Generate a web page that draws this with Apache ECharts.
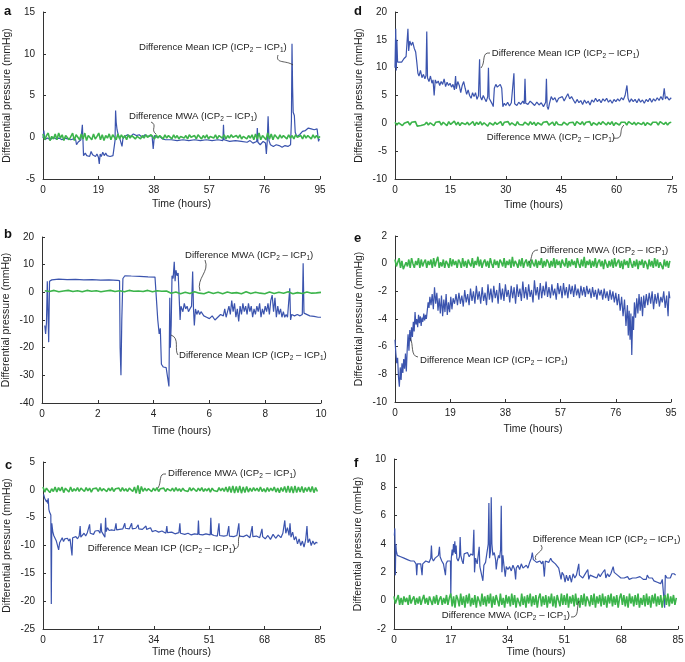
<!DOCTYPE html>
<html>
<head>
<meta charset="utf-8">
<script src="https://cdn.jsdelivr.net/npm/echarts@6/dist/echarts.min.js"></script>
<style>html,body{margin:0;padding:0;background:#fff}#c{width:685px;height:662px}</style>
</head>
<body>
<div id="c"></div>
<script>
// ---------- DATA ----------
const xTitle = 'Time (hours)';
const yTitle = 'Differential pressure (mmHg)';
const labelMean = 'Difference Mean ICP';
const labelMWA = 'Difference MWA';

// axis ranges [min, max, interval]
const xAxisA = [0, 95, 19], yAxisA = [-5, 15, 5];
const xAxisD = [0, 75, 15], yAxisD = [-10, 20, 5];
const xAxisB = [0, 10, 2],  yAxisB = [-40, 20, 10];
const xAxisE = [0, 95, 19], yAxisE = [-10, 2, 2];
const xAxisC = [0, 85, 17], yAxisC = [-25, 5, 5];
const xAxisF = [0, 85, 17], yAxisF = [-2, 10, 2];

// Difference Mean ICP: [hours, mmHg]
const blueA = [[0,-0.1],[0.3,0.8],[0.6,-0.3],[1.5,-0.1],[2.5,-0.3],[3.5,0.0],[4.5,-0.2],[5.5,-0.1],[6.5,-0.3],[7.5,-0.1],[8.5,-0.2],[9.5,-0.3],[10.5,-0.2],[11.2,-0.3],[11.5,-0.9],[12,-0.6],[12.5,-0.7],[13,-0.3],[13.3,-0.5],[13.5,1.5],[13.7,-0.3],[13.9,-2.2],[14.5,-1.9],[15,-2.2],[15.5,-2.0],[16,-2.3],[16.5,-1.7],[17,-2.1],[17.5,-1.9],[18,-2.3],[18.5,-2.0],[19,-2.4],[19.3,-3.2],[19.6,-2.0],[20,-2.3],[20.5,-1.8],[21,-2.2],[21.5,-1.9],[22,-2.2],[22.5,-2.0],[23,-2.3],[24,-2.2],[24.6,-2.2],[24.7,-0.4],[24.9,3.2],[25.1,1.8],[25.4,0.9],[25.8,0.3],[26.3,-0.1],[26.8,-0.3],[27.1,-1.1],[27.4,-0.2],[28,0.1],[29,0.3],[30,0.1],[31,0.4],[32,0.2],[33,0.3],[34,0.0],[35,0.3],[36,0.1],[37.4,0.2],[37.8,-1.4],[38.2,0.2],[39,0.0],[40,0.1],[41,-0.2],[42,-0.3],[44,-0.3],[46,-0.4],[48,-0.3],[50,-0.4],[52,-0.3],[54,-0.4],[56,-0.3],[58,-0.4],[60,-0.3],[61.7,-0.4],[61.9,1.5],[62.1,-0.3],[64,-0.5],[66,-0.4],[68,-0.5],[70,-0.6],[71,-0.4],[72,-0.7],[73.3,-0.5],[73.5,1.1],[73.7,-0.6],[74.5,-0.9],[75.5,-0.5],[76.3,-0.7],[76.6,-2.0],[76.9,-0.5],[77.2,2.5],[77.5,-0.4],[78,-0.9],[79,-1.1],[80,-0.9],[81,-1.0],[82,-1.2],[83,-1.0],[84,-1.1],[84.9,-0.9],[85.2,2],[85.4,11.2],[85.6,6],[85.8,3.0],[86.2,2.6],[86.5,0.6],[87,0.1],[88,0.3],[89,0.7],[90,0.8],[91,1.1],[92,1.0],[92.5,1.2],[93,0.9],[94,1.0],[94.3,0.8],[94.5,-0.5],[94.8,-0.2]];

const blueD = [[0,10],[0.2,17],[0.35,9.5],[0.5,15],[0.7,11],[1.2,11.3],[1.8,11],[2.4,11.6],[3,12],[3.3,12.3],[3.5,17],[3.7,13],[4,14.8],[4.4,14],[4.8,14.6],[5.2,13.5],[5.6,12.8],[5.9,11],[6.2,9],[6.5,8.5],[6.9,9.5],[7.3,8.2],[7.7,8.8],[8.1,8],[8.4,8.6],[8.6,16.5],[8.8,8.2],[9.2,7.5],[9.6,8.5],[10,7.2],[10.3,7.8],[10.6,5],[10.9,7.8],[11.3,7.2],[11.7,7.6],[12.1,6.8],[12.5,7.5],[12.9,7],[13.3,8],[13.7,6.6],[14.1,7.4],[14.5,6.8],[14.9,7.2],[15.3,6.5],[15.7,7],[16.1,6],[16.4,8.5],[16.6,6.2],[17,7.5],[17.4,6.8],[17.8,5.5],[18.2,6.8],[18.6,7.5],[19,6.3],[19.4,5.2],[19.8,6],[20.2,5],[20.6,4.5],[21,5.5],[21.4,4.8],[21.8,5.5],[22.2,4.3],[22.6,5],[22.9,11.5],[23.1,4.8],[23.5,4.2],[23.9,5],[24.3,4.4],[24.7,3.9],[25.1,4.8],[25.3,10],[25.5,4.5],[25.9,4.2],[26.3,3.5],[26.6,3.0],[26.9,6.3],[27.3,7],[27.7,6.5],[28.1,6.8],[28.5,7],[28.9,6.3],[29.2,3],[29.6,3.6],[30,3.2],[30.5,3.8],[31,3.1],[31.5,3.7],[32,3.4],[32.2,9],[32.4,3.5],[33,3.2],[33.5,3.8],[34,3.4],[34.6,4],[35,3.5],[35.2,8],[35.4,3.6],[36,3.4],[36.6,4.0],[37.2,3.6],[37.8,3.2],[38.4,3.8],[39,3.3],[39.6,3.7],[40.2,3.0],[40.8,3.8],[41,8],[41.2,3],[41.5,2.5],[41.8,3.5],[42.3,4.8],[42.8,4.2],[43.3,4.6],[43.8,3.8],[44.3,4.5],[44.8,4.2],[45.3,4.8],[45.8,4],[46.3,4.7],[46.8,5.3],[47.3,4.4],[47.8,4.8],[48.3,4.2],[48.8,3.6],[49.3,4.3],[49.8,3.7],[50.3,4.1],[50.8,3.4],[51.3,4.2],[51.8,3.6],[52.3,4.0],[52.8,3.3],[53.3,4.2],[53.8,3.8],[54.3,4.5],[54.8,3.9],[55.3,4.3],[55.8,3.7],[56.3,4.4],[56.8,4.0],[57.3,4.5],[57.8,3.8],[58.3,4.2],[58.8,3.6],[59.3,4.3],[59.8,3.9],[60.3,4.4],[60.8,4.0],[61.3,4.6],[61.8,4.2],[62.3,5],[62.8,6.8],[63.1,4.5],[63.5,3.8],[64,4.4],[64.5,3.9],[65,4.3],[65.5,3.7],[66,4.4],[66.5,3.8],[67,4.2],[67.5,3.6],[68,4.3],[68.5,3.9],[69,4.5],[69.5,3.8],[70,4.4],[70.5,4.0],[71,4.6],[71.5,4.1],[72,4.8],[72.5,4.2],[72.9,6.3],[73.2,4.4],[73.6,4.8],[74.2,4.2],[74.8,4.6]];

const blueB = [[0.1,-12],[0.13,-15],[0.16,-11],[0.19,4],[0.22,3.5],[0.24,-18],[0.27,4],[0.35,4.5],[0.6,4.8],[0.9,4.6],[1.2,4.7],[1.5,4.5],[1.8,4.6],[2.1,4.4],[2.4,4.5],[2.7,4.3],[2.78,4.2],[2.8,-20],[2.83,-30],[2.86,-10],[2.9,5],[2.97,6],[3.2,5.9],[3.5,5.8],[3.8,5.6],[4.05,5.5],[4.12,5.4],[4.15,-10],[4.2,-15],[4.24,-13],[4.28,-26],[4.35,-27],[4.45,-27.2],[4.52,-27],[4.55,-34],[4.58,-2],[4.6,-20],[4.63,-12],[4.66,6],[4.7,5],[4.74,11],[4.77,4],[4.8,8],[4.84,6],[4.88,7],[4.92,6.5],[4.95,-10],[4.98,-5],[5.05,-7],[5.1,-4],[5.15,-6],[5.2,-5],[5.25,-7],[5.3,-6],[5.36,-5],[5.4,7.5],[5.43,-6],[5.46,-12],[5.5,-6],[5.55,-8],[5.6,-6.5],[5.65,-8],[5.7,-7],[5.8,-8.5],[5.9,-9],[6.0,-9.5],[6.1,-8.5],[6.2,-10],[6.3,-9],[6.4,-8],[6.5,-8.5],[6.55,-6],[6.6,-9],[6.65,-7],[6.7,-5],[6.75,-8],[6.8,-3],[6.85,-7],[6.9,-4],[6.95,-9],[7.0,-6],[7.05,-10.5],[7.1,-5],[7.15,-8],[7.2,-4],[7.25,-7],[7.3,-5],[7.35,-8],[7.4,-4],[7.45,-7],[7.5,-5],[7.55,-9],[7.6,-6],[7.65,-8],[7.7,-5],[7.75,-7],[7.8,-4],[7.85,-9],[7.9,-6],[7.95,-8],[8.0,-5],[8.05,-7],[8.1,-4],[8.15,-8],[8.2,-3],[8.25,-1],[8.3,-7],[8.35,-2],[8.4,-9],[8.45,-5],[8.5,-8],[8.55,-6],[8.6,-9],[8.65,-7],[8.7,-9],[8.75,-8],[8.8,-9],[8.85,-8.5],[8.88,1.5],[8.91,-10],[8.95,-8],[9.05,-8.5],[9.15,-8],[9.25,-8.5],[9.33,-8],[9.36,10.5],[9.39,-7.5],[9.45,-8],[9.6,-8.5],[9.75,-8.7],[9.9,-9],[10,-9]];

const blueE = [[0,-5.5],[0.3,-6.5],[0.6,-7.2],[0.9,-6.8],[1.2,-8.2],[1.5,-8.9],[1.8,-7.5],[2.1,-8.4],[2.4,-7.2],[2.7,-7.9],[3.0,-6.9],[3.3,-7.6],[3.6,-6.5],[3.9,-7.8],[4.2,-6.2],[4.5,-5.1],[4.8,-6.3],[5.1,-4.8],[5.4,-5.6],[5.7,-4.6],[6.0,-5.3],[6.3,-4.2],[6.6,-4.9],[6.9,-3.5],[7.2,-4.4],[7.5,-4.0],[7.8,-4.6],[8.1,-3.7],[8.4,-4.3],[8.7,-3.8],[9.0,-4.5],[9.3,-3.9],[9.6,-4.2],[9.9,-3.6],[10.2,-4.1],[10.5,-3.7],[10.8,-4.0],[11.1,-3.9],[11.4,-2.8],[11.7,-3.2],[12.0,-2.4],[12.4,-3.0],[12.8,-2.2],[13.2,-3.3],[13.6,-1.7],[14.0,-2.9],[14.4,-2.1],[14.8,-3.4],[15.2,-2.5],[15.6,-3.6],[16.0,-2.3],[16.4,-3.8],[16.8,-2.6],[17.2,-3.5],[17.6,-2.2],[18.0,-3.7],[18.4,-2.8],[18.8,-3.5],[19.2,-2.4],[19.6,-3.3],[20.0,-2.5],[20.5,-2.9],[21.0,-2.2],[21.5,-3.0],[22.0,-2.1],[22.5,-2.9],[23.0,-2.3],[23.5,-3.1],[24.0,-1.9],[24.5,-2.8],[25.0,-2.2],[25.5,-3.0],[26.0,-1.8],[26.5,-2.7],[27.0,-2.0],[27.5,-2.9],[28.0,-1.6],[28.5,-2.6],[29.0,-2.0],[29.5,-2.9],[30.0,-1.7],[30.5,-2.7],[31.0,-2.1],[31.5,-3.0],[32.0,-1.5],[32.5,-2.6],[33.0,-1.8],[33.5,-2.8],[34.0,-1.6],[34.5,-2.5],[35.0,-1.9],[35.5,-2.9],[36.0,-1.4],[36.5,-2.6],[37.0,-1.8],[37.5,-2.7],[38.0,-1.5],[38.5,-2.4],[39.0,-1.9],[39.5,-2.8],[40.0,-1.6],[40.5,-2.5],[41.0,-1.7],[41.5,-2.9],[42.0,-1.5],[42.5,-2.4],[43.0,-1.8],[43.5,-2.7],[44.0,-1.3],[44.5,-2.5],[45.0,-1.7],[45.5,-2.6],[46.0,-1.5],[46.5,-2.4],[47.0,-1.9],[47.5,-2.8],[48.0,-1.2],[48.5,-2.3],[49.0,-1.7],[49.5,-2.6],[50.0,-1.4],[50.5,-2.5],[51.0,-1.6],[51.5,-2.3],[52.0,-1.3],[52.5,-2.4],[53.0,-1.7],[53.5,-2.5],[54.0,-1.5],[54.5,-2.3],[55.0,-1.8],[55.5,-2.6],[56.0,-1.4],[56.5,-2.2],[57.0,-1.6],[57.5,-2.5],[58.0,-1.4],[58.5,-2.3],[59.0,-1.7],[59.5,-2.5],[60.0,-1.5],[60.5,-2.2],[61.0,-1.6],[61.5,-2.4],[62.0,-1.5],[62.5,-2.3],[63.0,-1.8],[63.5,-2.5],[64.0,-1.6],[64.5,-2.3],[65.0,-1.7],[65.5,-2.4],[66.0,-1.6],[66.5,-2.2],[67.0,-1.8],[67.5,-2.5],[68.0,-1.7],[68.5,-2.4],[69.0,-1.9],[69.5,-2.6],[70.0,-1.8],[70.5,-2.3],[71.0,-1.9],[71.5,-2.6],[72.0,-1.8],[72.5,-2.5],[73.0,-2.0],[73.5,-2.7],[74.0,-1.9],[74.5,-2.6],[75.0,-2.0],[75.5,-2.8],[76.0,-2.1],[76.5,-3.0],[77.0,-2.2],[77.5,-3.4],[78.0,-2.4],[78.5,-3.8],[79.0,-2.6],[79.5,-4.5],[80.0,-3.0],[80.3,-5.2],[80.6,-3.4],[80.9,-5.5],[81.2,-3.6],[81.5,-6.6],[81.8,-3.8],[82.1,-4.8],[82.4,-2.8],[82.8,-3.9],[83.2,-2.5],[83.6,-3.6],[84.0,-2.2],[84.4,-3.4],[84.8,-2.4],[85.2,-3.8],[85.6,-2.3],[86.0,-3.2],[86.5,-2.2],[87.0,-3.0],[87.5,-2.1],[88.0,-2.9],[88.5,-2.0],[89.0,-3.3],[89.5,-2.2],[90.0,-2.9],[90.5,-2.1],[91.0,-3.1],[91.5,-2.4],[92.0,-2.8],[92.5,-2.0],[93.0,-3.2],[93.5,-2.3],[94.0,-3.8],[94.3,-2.0],[94.6,-2.5]];

const blueC = [[0.2,-0.8],[0.5,-1.5],[0.8,-1.2],[1.1,-2.2],[1.3,-1.8],[1.5,-2.5],[1.6,-1.5],[1.8,-3.5],[2.0,-4.0],[2.2,-3.8],[2.4,-4.5],[2.55,-20.5],[2.7,-6],[3.0,-7.5],[3.3,-8.2],[3.7,-8.5],[4.1,-9.2],[4.5,-9.0],[4.8,-10.8],[5.1,-9.5],[5.5,-9.2],[5.9,-8.6],[6.3,-9.3],[6.7,-8.8],[7.1,-9.1],[7.5,-8.7],[7.9,-9.2],[8.3,-8.8],[8.7,-9],[8.9,-11.8],[9.1,-8.6],[9.6,-8.8],[10.1,-8.4],[10.6,-8.8],[11.1,-8.3],[11.4,-6.5],[11.6,-8.5],[12.1,-8.2],[12.6,-7.8],[13.1,-8.3],[13.6,-7.7],[14.1,-8],[14.3,-6.2],[14.5,-7.8],[15,-7.5],[15.5,-8],[16,-7.4],[16.5,-7.7],[17,-7.3],[17.5,-7.8],[17.8,-6.0],[18,-7.5],[18.5,-7.2],[19.0,-8.5],[19.2,-5.0],[19.4,-7.5],[19.8,-6.8],[20.3,-7.3],[21,-7.2],[22,-7.3],[22.4,-6.0],[22.6,-7.2],[23.5,-7.1],[24.5,-7.0],[25.1,-6.0],[25.3,-6.9],[26.5,-7.0],[27.2,-6.0],[27.4,-7.0],[28.5,-6.9],[29.2,-6.3],[29.4,-7.0],[30.5,-7.1],[31.6,-6.5],[31.8,-7.1],[33,-6.8],[33.5,-7.5],[34.5,-7.3],[35.5,-7.6],[36.5,-7.4],[37.7,-7.8],[38,-6.5],[38.2,-7.7],[39.5,-7.6],[40.5,-7.9],[41.7,-7.7],[42,-6.0],[42.2,-7.8],[43.5,-8.0],[44.5,-7.8],[45.5,-8.1],[46.5,-7.9],[47.5,-8.0],[47.7,-5.5],[47.9,-8.0],[49,-8.1],[50,-7.9],[51.3,-8.1],[51.5,-5.0],[51.7,-8.0],[52.5,-8.2],[53.5,-8.3],[54.0,-6.0],[54.2,-8.2],[55.5,-8.3],[56.5,-8.2],[57.0,-6.5],[57.2,-8.3],[58.5,-8.4],[59.5,-8.2],[60.1,-6.0],[60.3,-8.3],[61.5,-8.4],[62.5,-8.1],[63.5,-8.6],[64.2,-6.5],[64.4,-8.4],[65.5,-8.3],[66.5,-8.6],[67.2,-7.0],[67.4,-8.4],[68.2,-8.8],[69,-8.2],[69.8,-8.9],[70.6,-8.0],[71.4,-8.7],[72.2,-8.1],[73,-8.6],[73.6,-7.8],[74.2,-5.5],[74.5,-7.8],[75,-6.8],[75.5,-8.2],[75.8,-6.0],[76.1,-8.5],[76.6,-7.6],[77.1,-9.0],[77.6,-8.4],[78.1,-9.7],[78.6,-8.8],[79.1,-10.0],[79.6,-9.2],[80.1,-10.3],[80.6,-9.0],[81,-6.5],[81.3,-9.5],[81.8,-8.8],[82.3,-10],[82.8,-9.2],[83.3,-9.8],[83.8,-9.4],[84.2,-9.6]];

const blueF = [[0.1,4.6],[0.25,5.1],[0.4,1.8],[0.55,4.0],[0.7,3.5],[1,3.2],[1.5,3.3],[2,3.1],[2.5,3.2],[3,3.0],[3.5,3.1],[4,2.9],[4.5,3.0],[5,2.8],[5.5,2.7],[6,2.8],[6.6,2.6],[6.8,1.8],[7,2.6],[7.5,2.5],[8,2.6],[8.4,1.8],[8.6,2.6],[9,2.5],[9.5,2.8],[10,2.9],[10.5,2.7],[11.0,3.0],[11.2,3.9],[11.4,3.0],[11.8,2.8],[12.3,3.0],[12.8,2.9],[13.3,3.2],[13.6,3.8],[13.8,3.1],[14.3,2.8],[14.8,2.6],[15.3,2.7],[15.4,1.8],[15.6,2.6],[16,2.8],[16.5,2.7],[16.9,2.8],[17.0,0.3],[17.15,3.0],[17.4,3.6],[17.6,3.2],[17.8,4.0],[18,3.4],[18.2,4.2],[18.4,3.3],[18.6,3.9],[18.8,3.0],[19.2,2.8],[19.6,3.1],[19.8,4.5],[20,3.2],[20.4,2.8],[20.7,2.6],[21,3.3],[21.5,3.2],[22,3.4],[22.5,3.1],[23,3.3],[23.6,3.2],[23.9,5.0],[24.1,2.0],[24.4,3.0],[24.9,2.6],[25.3,2.5],[25.5,3.8],[25.7,2.4],[26.2,2.5],[26.6,1.4],[26.9,2.5],[27.4,2.7],[27.9,2.6],[28.2,4.0],[28.4,6.9],[28.6,3.0],[28.9,3.5],[29.1,7.3],[29.3,4.0],[29.6,3.2],[30,3.4],[30.4,2.9],[30.6,2.2],[30.9,2.8],[31.3,3.2],[31.6,3.0],[31.9,3.6],[32.1,6.7],[32.3,2.0],[32.6,3.2],[32.9,2.5],[33.3,1.7],[33.6,2.4],[34.1,2.2],[34.6,2.4],[35.1,2.1],[35.6,2.5],[36.1,2.2],[36.4,1.5],[36.6,2.3],[37.1,2.5],[37.6,2.2],[38.1,2.6],[38.6,2.3],[39.1,2.2],[39.6,2.5],[40.1,2.3],[40.6,2.7],[41.1,3.0],[41.4,3.4],[41.7,2.9],[42.2,3.0],[42.7,2.7],[43.2,2.6],[43.7,2.8],[44.2,2.6],[44.6,2.8],[45,1.7],[45.3,2.8],[45.8,2.9],[46.3,2.7],[46.9,3.0],[47.3,2.8],[47.8,2.9],[48.3,2.6],[48.8,2.5],[49.3,2.3],[49.8,2.2],[50,1.5],[50.3,2.0],[50.8,1.8],[51.2,1.3],[51.6,1.8],[52.1,1.4],[52.6,1.8],[53.1,1.3],[53.6,1.9],[54.1,1.6],[54.6,1.8],[55.1,1.7],[55.3,2.6],[55.5,1.8],[56,1.9],[56.5,1.6],[57,1.8],[57.5,1.7],[58,2.2],[58.3,1.5],[58.7,1.8],[59.2,1.9],[59.7,1.7],[60.2,1.8],[60.7,1.6],[61.2,1.9],[61.7,1.7],[62.2,1.9],[62.7,1.8],[63.1,2.2],[63.4,1.6],[63.9,1.9],[64.4,1.7],[64.9,1.9],[65.4,2.0],[65.6,2.4],[65.9,2.0],[66.4,1.9],[66.9,1.8],[67.4,1.7],[67.9,1.6],[68.4,1.7],[68.9,1.6],[69.4,1.6],[69.9,1.7],[70.4,1.5],[70.9,1.6],[71.4,1.6],[71.9,1.7],[72.4,1.6],[72.9,1.7],[73.6,1.7],[74.1,1.6],[74.6,1.5],[75.1,1.6],[75.5,1.5],[75.8,1.8],[76.3,1.6],[76.8,1.5],[77.3,1.6],[77.8,1.4],[78.3,1.5],[78.8,1.3],[79.3,1.4],[79.8,1.2],[80.3,1.5],[80.8,1.4],[81.0,-0.5],[81.2,1.8],[81.7,1.6],[82.2,1.7],[82.7,1.6],[83.2,1.9],[83.5,2.0],[83.8,1.9],[84.3,1.8]];

// Difference MWA: evenly sampled readings (mmHg) over [start, end] hours
const greenSpanA = [0, 95];
const greenA = [0.4,-0.3,0.2,0.5,-0.4,0.1,-0.2,0.4,-0.3,0.5,-0.1,0.3,-0.4,0.2,0.4,-0.3,-0.1,0.5,-0.4,0.3,0.1,-0.3,0.4,-0.2,0.5,-0.4,0.2,0.3,-0.3,0.4,-0.2,0.1,0.5,-0.3,0.3,-0.4,0.2,-0.1,0.4,-0.3,0.3,0.0,-0.3,0.4,-0.2,0.3,-0.1,0.2,-0.3,0.3,-0.1,0.2,0.3,-0.2,0.1,0.3,-0.2,0.2,-0.1,0.3,0.0,-0.2,0.3,0.1,-0.2,0.3,-0.1,0.2,0.0,-0.2,0.3,-0.1,0.2,0.1,-0.2,0.3,-0.1,0.2,-0.2,0.1,0.3,-0.1,0.2,-0.2,0.3,0.0,-0.1,0.2,-0.2,0.3,0.1,-0.2,0.2,-0.1,0.3,-0.2,0.1,0.2,-0.1,0.3,-0.2,0.2,0.0,-0.1,0.3,-0.2,0.2,-0.1,0.3,0.0,-0.2,0.2,-0.1,0.3,-0.2,0.1,0.3,-0.2,0.2,-0.1,0.3,-0.3,0.4,-0.2,0.5,-0.3,0.2,0.4,-0.3,0.5,-0.2,0.4,-0.3,0.3,0.1,-0.2,0.3,-0.1,0.2,0.0,-0.2,0.3,-0.1,0.2,-0.2,0.3,0.0,-0.1,0.2,-0.2,0.3,-0.1,0.2,0.1,-0.2,0.3,-0.1,0.2,-0.1,0.1];
const greenSpanD = [0, 74.8];
const greenD = [0.2,-0.3,0.1,0.3,-0.4,0.0,-0.2,0.3,-0.3,0.2,-0.1,0.3,-0.5,-0.6,-0.4,-0.5,-0.2,0.2,-0.3,0.1,0.3,-0.4,0.2,-0.1,0.3,-0.3,0.2,0.0,-0.4,0.3,-0.2,0.1,0.4,-0.3,0.2,-0.4,0.1,0.3,-0.2,0.2,-0.3,0.0,0.3,-0.4,0.2,-0.2,0.3,-0.3,0.1,0.2,-0.5,0.1,0.3,-0.3,0.2,-0.2,0.0,0.3,-0.4,0.2,-0.1,0.3,-0.3,0.1,0.2,-0.4,0.3,-0.2,0.1,-0.3,0.2,0.0,-0.3,0.3,-0.2,0.2,-0.4,0.1,0.3,-0.3,0.2,-0.1,0.3,-0.3,0.0,0.2,-0.4,0.3,-0.2,0.1,-0.3,0.2,0.3,-0.3,0.1,-0.2,0.2,-0.4,0.3,0.0,-0.2,0.3,-0.3,0.2,-0.1,0.3,-0.4,0.1,0.2,-0.3,0.2,-0.2,0.3,0.0,-0.3,0.2,-0.2,0.3,-0.4,0.1,0.3,-0.3,0.2,-0.1,0.2,-0.3,0.3,0.0,-0.2,0.2,-0.3,0.1,0.3,-0.2,0.2,-0.4,0.1,0.3,-0.3,0.2,-0.1,0.2,-0.3,0.3,0.0,-0.2,0.2,-0.3,0.1,0.2];
const greenSpanB = [0.1, 10];
const greenB = [0.6,0.3,0.7,0.2,0.5,0.7,0.3,0.6,0.2,0.7,0.4,0.6,0.2,0.5,0.7,0.3,0.6,0.2,0.7,0.4,0.5,0.3,0.7,0.2,0.6,0.4,0.5,-0.3,0.1,-0.5,0.0,-0.4,0.2,-0.3,-0.5,0.1,-0.4,0.0,-0.5,0.1,-0.3,-0.1,-0.5,0.2,-0.4,0.0,-0.3,-0.5,0.1,-0.4,0.0,-0.3,0.2,-0.5,-0.1,-0.4,0.1,-0.3,-0.2,0.0];
const greenSpanE = [0, 94.6];
const greenE = [0.3,-0.2,0.1,0.4,-0.3,0.2,-0.4,-0.3,0.1,-0.2,0.3,-0.3,0.4,0.0,-0.3,0.2,-0.1,0.4,-0.3,0.3,-0.2,0.1,0.3,-0.3,0.2,-0.1,0.3,-0.3,0.4,-0.2,0.2,0.5,-0.3,0.1,-0.2,0.3,-0.3,0.2,0.0,-0.3,0.4,-0.2,0.3,-0.1,0.2,-0.3,0.3,0.1,-0.3,0.4,-0.2,0.2,-0.3,0.3,0.0,-0.2,0.4,-0.3,0.2,-0.1,0.5,-0.2,0.3,-0.3,0.1,0.3,-0.2,0.2,-0.3,0.4,0.0,-0.3,0.3,-0.1,0.2,-0.3,0.3,0.1,-0.2,0.4,-0.3,0.2,-0.1,0.3,-0.3,0.5,-0.2,0.2,0.0,-0.3,0.3,-0.2,0.4,-0.3,0.1,0.3,-0.2,0.2,-0.3,0.3,0.0,-0.2,0.3,-0.3,0.2,-0.1,0.4,-0.3,0.2,-0.2,0.3,0.1,-0.3,0.2,-0.2,0.4,-0.3,0.3,-0.1,0.2,-0.3,0.3,0.0,-0.2,0.4,-0.3,0.2,-0.2,0.3,-0.1,0.2,-0.3,0.4,0.0,-0.3,0.3,-0.2,0.5,-0.3,0.2,-0.1,0.3,-0.3,0.2,-0.2,0.4,-0.3,0.1,0.3,-0.2,0.2,-0.4,0.3,0.0,-0.3,0.2,-0.2,0.3,-0.3,0.4,-0.2,0.1,0.3,-0.3,0.2,-0.4,0.3,-0.1,0.2,-0.3,0.4,0.0,-0.3,0.2,-0.2,0.3,-0.4,0.2,-0.1,0.3,-0.3,0.2,0.0,-0.4,0.3,-0.2,0.2,-0.3,0.4,-0.2,0.3,-0.3,0.1,0.2,-0.4,0.3,-0.2,0.2,-0.3,0.2];
const greenSpanC = [0, 84.2];
const greenC = [0.5,-0.4,0.3,0.6,-0.5,0.2,-0.3,0.5,-0.4,0.4,-0.2,0.5,-0.5,0.3,0.1,-0.4,0.5,-0.3,0.2,-0.2,0.4,-0.3,0.3,0.0,-0.3,0.4,-0.2,0.3,-0.4,0.2,-0.1,0.3,-0.3,0.4,-0.2,0.2,0.0,-0.3,0.3,-0.2,0.4,-0.3,0.2,-0.1,0.3,-0.3,0.4,-0.2,0.2,-0.3,0.3,0.0,-0.3,0.5,-0.6,0.8,-0.7,0.6,-0.3,0.3,-0.2,0.2,0.0,-0.3,0.3,-0.2,0.4,-0.3,0.2,-0.1,0.3,-0.3,0.2,0.0,-0.2,0.3,-0.3,0.4,-0.2,0.2,-0.3,0.3,-0.1,0.2,-0.3,0.4,-0.2,0.3,0.0,-0.3,0.3,-0.2,0.4,-0.3,0.2,-0.2,0.3,-0.4,0.3,-0.1,0.2,-0.3,0.4,-0.2,0.3,-0.3,0.5,-0.4,0.6,-0.5,0.7,-0.6,0.6,-0.5,0.7,-0.6,0.5,-0.5,0.6,-0.4,0.3,-0.3,0.4,-0.2,0.3,-0.3,0.5,-0.3,0.2,-0.4,0.4,-0.3,0.3,-0.2,0.5,-0.4,0.3,-0.5,0.4,-0.3,0.6,-0.5,0.7,-0.5,0.6,-0.6,0.7,-0.5,0.5,-0.4,0.6,-0.5,0.4,-0.3,0.5,-0.4,0.6,-0.5,0.4,-0.3];
const greenSpanF = [0, 84.5];
const greenF = [0.3,-0.2,0.1,0.4,-0.3,0.2,-0.3,0.3,-0.1,0.2,-0.3,0.4,-0.2,0.1,0.3,-0.3,0.2,-0.2,0.3,-0.3,0.1,0.4,-0.2,0.2,-0.3,0.3,0.0,-0.3,0.3,-0.2,0.4,-0.3,0.1,0.3,-0.3,0.2,-0.2,0.4,-0.3,0.2,0.5,-0.4,0.3,-0.5,0.4,0.1,-0.4,0.5,-0.3,0.3,-0.5,0.4,-0.2,0.5,-0.4,0.2,-0.3,0.4,-0.5,0.3,0.0,-0.4,0.5,-0.3,0.3,-0.4,0.4,-0.2,0.5,-0.5,0.3,-0.3,0.4,0.0,-0.4,0.5,-0.3,0.2,-0.5,0.4,-0.2,0.3,-0.4,0.5,-0.3,0.4,-0.5,0.2,0.3,-0.4,0.5,-0.3,0.3,-0.5,0.4,-0.2,0.5,-0.4,0.3,-0.3,0.4,-0.5,0.2,0.5,-0.4,0.3,-0.3,0.4,-0.5,0.3,-0.2,0.5,-0.4,0.3,-0.5,0.4,0.0,-0.4,0.5,-0.3,0.4,-0.3,0.5,-0.5,0.3,-0.2,0.4,-0.4,0.5,-0.3,0.2,-0.5,0.4,-0.3,0.5,-0.4,0.3,0.0,-0.4,0.4,-0.3,0.5,-0.5,0.3,-0.2,0.4,-0.4,0.5,-0.3,0.3,-0.5,0.4,-0.2,0.5,-0.4,0.3,-0.3,0.4,-0.5,0.2,0.5,-0.3,0.4,-0.4,0.3,-0.5,0.5,-0.2,0.3,-0.4,0.4,-0.3,0.5,-0.5,0.2,-0.3,0.4,-0.4,0.5,-0.3,0.3,-0.5,0.4,-0.2,0.5,-0.4,0.3,-0.3,0.4,-0.5,0.2,0.4,-0.3,0.5,-0.4,0.3,-0.2,0.4,-0.3,0.2];

// ---------- CHART ----------
const BLUE = '#3b54ae', GREEN = '#3cb44b', INK = '#222', FONT = '"Liberation Sans", Arial, sans-serif';

const panels = [
  {tag:'a', grid:{left:43, top:12, width:277, height:167}, xr:xAxisA, yr:yAxisA, blue:blueA, green:greenA, span:greenSpanA, tagPos:[4,5], xGap:20},
  {tag:'d', grid:{left:395, top:12, width:277, height:167}, xr:xAxisD, yr:yAxisD, blue:blueD, green:greenD, span:greenSpanD, tagPos:[354,5], xGap:21},
  {tag:'b', grid:{left:42, top:237, width:279, height:166}, xr:xAxisB, yr:yAxisB, blue:blueB, green:greenB, span:greenSpanB, tagPos:[4,228], xGap:23},
  {tag:'e', grid:{left:395, top:236, width:276, height:166}, xr:xAxisE, yr:yAxisE, blue:blueE, green:greenE, span:greenSpanE, tagPos:[354,232], xGap:22},
  {tag:'c', grid:{left:43, top:462, width:277, height:167}, xr:xAxisC, yr:yAxisC, blue:blueC, green:greenC, span:greenSpanC, tagPos:[5,459], xGap:18},
  {tag:'f', grid:{left:394, top:459, width:284, height:170}, xr:xAxisF, yr:yAxisF, blue:blueF, green:greenF, span:greenSpanF, tagPos:[354,457], xGap:18}
];

const axisCommon = {
  axisLine:{show:true, onZero:false, lineStyle:{color:'#333', width:1}},
  axisTick:{show:true, inside:true, length:3, lineStyle:{color:'#333'}},
  splitLine:{show:false},
  nameLocation:'middle',
  nameTextStyle:{color:INK, fontSize:10.5, fontFamily:FONT},
  axisLabel:{color:INK, fontSize:10, fontFamily:FONT}
};

const grids = [], xAxes = [], yAxes = [], series = [];
panels.forEach((p, i) => {
  grids.push(Object.assign({outerBoundsMode:'none', containLabel:false}, p.grid));
  xAxes.push(Object.assign({}, axisCommon, {
    gridIndex:i, type:'value', min:p.xr[0], max:p.xr[1], interval:p.xr[2],
    name:xTitle, nameGap:p.xGap, axisLabel:Object.assign({}, axisCommon.axisLabel, {margin:6})
  }));
  yAxes.push(Object.assign({}, axisCommon, {
    gridIndex:i, type:'value', min:p.yr[0], max:p.yr[1], interval:p.yr[2],
    name:yTitle, nameGap:30, axisLabel:Object.assign({}, axisCommon.axisLabel, {margin:8})
  }));
  series.push({type:'line', xAxisIndex:i, yAxisIndex:i, data:p.blue, symbol:'none',
    lineStyle:{color:BLUE, width:1.2}, z:2, silent:true});
  const n = p.green.length, t0 = p.span[0], dt = (p.span[1] - p.span[0]) / (n - 1);
  series.push({type:'line', xAxisIndex:i, yAxisIndex:i,
    data:p.green.map((v, k) => [t0 + k * dt, v]), symbol:'none',
    lineStyle:{color:GREEN, width:1.6}, z:3, silent:true});
});

// annotations
function ann(kind, x, y) {
  const base = kind === 'mean' ? labelMean : labelMWA;
  return {type:'text', x:x, y:y, z:10, style:{
    text:'{n|' + base + ' (ICP}{s|2}{n| – ICP}{s|1}{n|)}',
    verticalAlign:'middle', align:'left',
    rich:{
      n:{fontSize:9.6, fontFamily:FONT, fill:INK, lineHeight:13, verticalAlign:'middle'},
      s:{fontSize:6.5, fontFamily:FONT, fill:INK, lineHeight:13, verticalAlign:'bottom'}
    }}};
}
function lead(x1, y1, cx1, cy1, cx2, cy2, x2, y2) {
  return {type:'bezierCurve', z:10, shape:{x1:x1, y1:y1, cpx1:cx1, cpy1:cy1, cpx2:cx2, cpy2:cy2, x2:x2, y2:y2},
    style:{stroke:'#333', lineWidth:0.8, fill:null}};
}
const graphics = [
  ann('mean', 139, 47.7), lead(278, 55, 275, 64, 286, 60, 293, 65),
  ann('mwa', 129, 116.7), lead(151, 122, 158, 125, 150, 130, 156, 134),
  ann('mean', 491.7, 53.3), lead(490, 53, 481, 52, 486, 62, 481, 68),
  ann('mwa', 486.7, 137.7), lead(613, 138, 625, 140, 618, 130, 624, 125),
  ann('mwa', 185, 255), lead(205, 260, 210, 272, 196, 278, 200, 291),
  ann('mean', 179, 355.7), lead(178, 355, 174, 350, 180, 338, 171, 335),
  ann('mwa', 540, 250), lead(538, 250, 530, 250, 533, 258, 529, 263),
  ann('mean', 420, 360), lead(418, 357, 410, 356, 414, 344, 410, 338),
  ann('mwa', 168, 473.3), lead(166, 474, 158, 473, 162, 482, 158, 488),
  ann('mean', 87.7, 548.3), lead(234, 549, 242, 548, 236, 540, 240, 535),
  ann('mean', 532.7, 539.3), lead(541, 545, 546, 552, 532, 553, 536, 560),
  ann('mwa', 441.7, 615), lead(571, 617, 580, 618, 576, 607, 579, 601)
];
panels.forEach(p => {
  graphics.push({type:'text', x:p.tagPos[0], y:p.tagPos[1], z:10,
    style:{text:p.tag, fontSize:13, fontWeight:'bold', fontFamily:FONT, fill:'#111', verticalAlign:'top'}});
});

const chart = echarts.init(document.getElementById('c'), null, {renderer:'canvas'});
chart.setOption({
  animation:false,
  backgroundColor:'#fff',
  textStyle:{fontFamily:FONT},
  grid:grids, xAxis:xAxes, yAxis:yAxes, series:series,
  graphic:graphics
});
</script>
</body>
</html>
